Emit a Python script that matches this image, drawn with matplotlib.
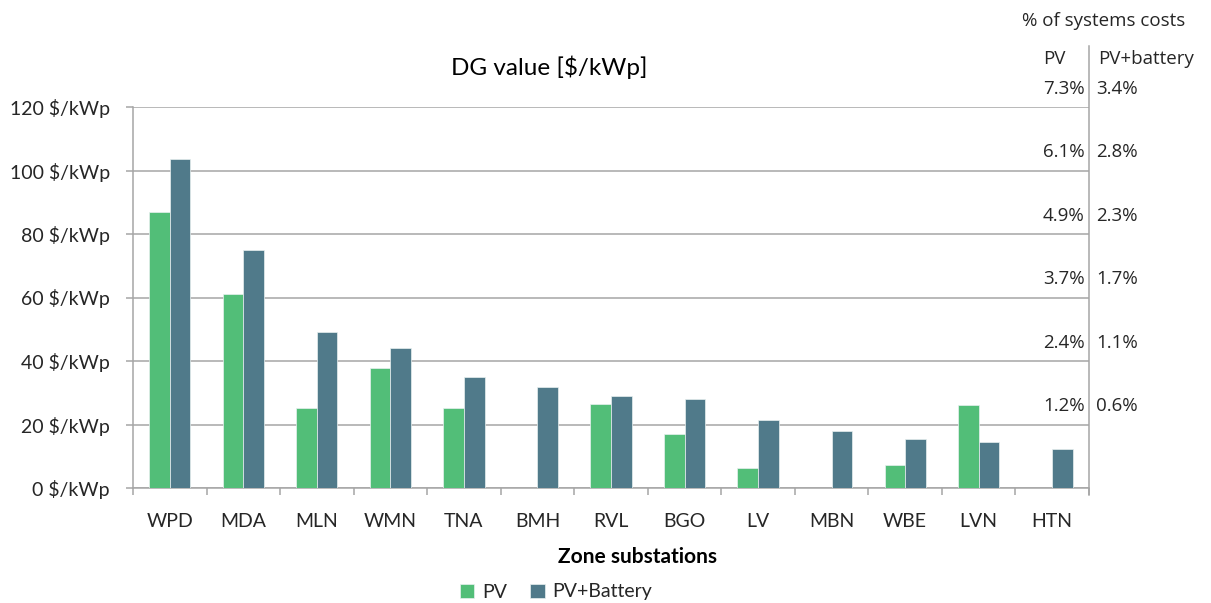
import matplotlib
matplotlib.use("Agg")
import numpy as np
import matplotlib.pyplot as plt

plt.rcParams['font.family'] = ['Lato', 'DejaVu Sans']

# data
zones = ['WPD', 'MDA', 'MLN', 'WMN', 'TNA', 'BMH', 'RVL', 'BGO', 'LV', 'MBN', 'WBE', 'LVN', 'HTN']
pv = [87, 61, 25.2, 37.8, 25.2, 0, 26.3, 17, 6.4, 0, 7.1, 26, 0]
pv_battery = [103.7, 75, 49.1, 44.1, 35, 31.8, 29.1, 28, 21.3, 18.1, 15.4, 14.6, 12.3]

# right-hand "% of systems costs" labels, one pair per gridline
grid_values = [120, 100, 80, 60, 40, 20]
pct_pv = ['7.3%', '6.1%', '4.9%', '3.7%', '2.4%', '1.2%']
pct_pvb = ['3.4%', '2.8%', '2.3%', '1.7%', '1.1%', '0.6%']

green = '#52BE78'
blue = '#507A8A'
grey = '#A6A6A6'
txt = '#262626'
side_font = ['Open Sans', 'DejaVu Sans']

fig = plt.figure(figsize=(12.11, 6.03), dpi=100)
ax = fig.add_axes([133 / 1211, 1 - 488 / 603, (1089 - 133) / 1211, (488 - 107) / 603])

x = np.arange(len(zones))
w = 0.28
ax.bar(x - w / 2, pv, w, color=green, edgecolor='#E8F0F0', linewidth=0.5, label='PV', zorder=3)
ax.bar(x + w / 2, pv_battery, w, color=blue, edgecolor='#E8F0F0', linewidth=0.5, label='PV+Battery', zorder=3)

ax.set_xlim(-0.5, len(zones) - 0.5)
ax.set_ylim(0, 120)
ax.set_yticks(range(0, 121, 20))
ax.set_yticklabels([f'{v} $/kWp' for v in range(0, 121, 20)])
ax.yaxis.grid(True, color=grey, linewidth=1.1, zorder=0)
ax.set_axisbelow(True)

ax.set_xticks(x)
ax.set_xticklabels(zones)
ax.set_xticks(np.arange(-0.5, len(zones)), minor=True)
ax.tick_params(axis='x', which='major', length=0, pad=18, labelsize=14, labelcolor=txt)
ax.tick_params(axis='x', which='minor', length=5, width=1.1, color=grey, direction='out')
ax.tick_params(axis='y', length=5, width=1.1, color=grey, pad=11.5, labelsize=14, labelcolor=txt)

for s in ['top', 'right']:
    ax.spines[s].set_visible(False)
for s in ['left', 'bottom']:
    ax.spines[s].set_color(grey)
    ax.spines[s].set_linewidth(1.1)

# secondary axis line reaching up to the header
ax.plot([1, 1], [-0.018, 1.16], transform=ax.transAxes, color=grey, lw=1.1, clip_on=False)

for v, a, b in zip(grid_values, pct_pv, pct_pvb):
    ax.annotate(a, xy=(1, v), xycoords=('axes fraction', 'data'), xytext=(-3, 13),
                textcoords='offset points', ha='right', va='center', fontsize=13.5, color=txt,
                family=side_font, annotation_clip=False)
    ax.annotate(b, xy=(1, v), xycoords=('axes fraction', 'data'), xytext=(5, 13),
                textcoords='offset points', ha='left', va='center', fontsize=13.5, color=txt,
                family=side_font, annotation_clip=False)

fig.text(1054 / 1211, 1 - 59 / 603, 'PV', ha='center', va='center', fontsize=13.5, color=txt,
         family=side_font)
fig.text(1098 / 1211, 1 - 59 / 603, 'PV+battery', ha='left', va='center', fontsize=13.5, color=txt,
         family=side_font)
fig.text(1022 / 1211, 1 - 21 / 603, '% of systems costs', ha='left', va='center', fontsize=13.5,
         color=txt, family=side_font)

fig.text(549 / 1211, 1 - 67 / 603, 'DG value [$/kWp]', ha='center', va='center', fontsize=17.5, color='black')
fig.text(637 / 1211, 1 - 557 / 603, 'Zone substations', ha='center', va='center', fontsize=15,
         fontweight='bold', color='black')

fig.legend(loc='center', bbox_to_anchor=(556 / 1211, 1 - 592 / 603), ncol=2, frameon=False,
           fontsize=14, handlelength=0.75, handleheight=0.75, handletextpad=0.4, columnspacing=1.2,
           labelcolor=txt)

fig.savefig('out.png', dpi=100)
